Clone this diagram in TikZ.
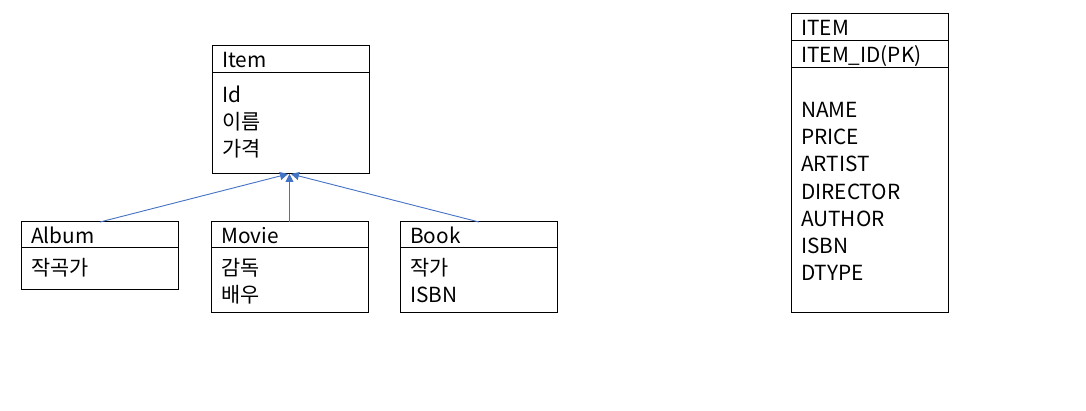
\documentclass[tikz,border=0pt]{standalone}
\usepackage{fontspec}
\setmainfont{Noto Sans CJK KR}
\usetikzlibrary{arrows.meta}
\definecolor{arrowblue}{HTML}{4472C4}
\tikzset{
  box/.style={draw=black, line width=1pt},
  txt/.style={anchor=base west, inner sep=0pt, font=\fontsize{20.8}{24}\selectfont},
  inherit/.style={draw=arrowblue, line width=0.9pt, -{Triangle[length=8pt,width=8pt]}}
}
\begin{document}
\begin{tikzpicture}[x=1pt,y=-1pt]
\useasboundingbox[fill=white] (0,0) rectangle (1086,411);
% Item
\draw[box] (212,46) rectangle (369,174);
\draw[box] (212,73) -- (369,73);
\node[txt] (itemT) at (222,68) {Item};
\node[txt] (itemA) at (222,103) {Id};
\node[txt] (itemB) at (222,130) {이름};
\node[txt] (itemC) at (222,157) {가격};
\coordinate (itemL) at (288,174);
\coordinate (itemM) at (289.5,174);
\coordinate (itemR) at (291,174);
% Album
\draw[box] (21,222) rectangle (178,290);
\draw[box] (21,248) -- (178,248);
\node[txt] (albumT) at (31,244) {Album};
\node[txt] (albumA) at (31,276) {작곡가};
\coordinate (albumTop) at (100,222);
% Movie
\draw[box] (211,222) rectangle (368,313);
\draw[box] (211,248) -- (368,248);
\node[txt] (movieT) at (221,244) {Movie};
\node[txt] (movieA) at (221,276) {감독};
\node[txt] (movieB) at (221,303) {배우};
\coordinate (movieTop) at (289.5,222);
% Book
\draw[box] (400,222) rectangle (557,313);
\draw[box] (400,248) -- (557,248);
\node[txt] (bookT) at (410,244) {Book};
\node[txt] (bookA) at (410,276) {작가};
\node[txt] (bookB) at (410,303) {ISBN};
\coordinate (bookTop) at (479,222);
% arrows
\draw[inherit] (albumTop) -- (itemL);
\draw[inherit] (movieTop) -- (itemM);
\draw[inherit] (bookTop) -- (itemR);
% Table
\draw[box] (791,14) rectangle (948,313);
\draw[box] (791,41) -- (948,41);
\draw[box] (791,68) -- (948,68);
\node[txt] (tT) at (801,36) {ITEM};
\node[txt] (tPK) at (801,63) {ITEM\_ID(PK)};
\node[txt] (t1) at (801,117.5) {NAME};
\node[txt] (t2) at (801,144.7) {PRICE};
\node[txt] (t3) at (801,171.9) {ARTIST};
\node[txt] (t4) at (801,199.1) {DIRECTOR};
\node[txt] (t5) at (801,226.3) {AUTHOR};
\node[txt] (t6) at (801,253.5) {ISBN};
\node[txt] (t7) at (801,280.7) {DTYPE};
\end{tikzpicture}
\end{document}
